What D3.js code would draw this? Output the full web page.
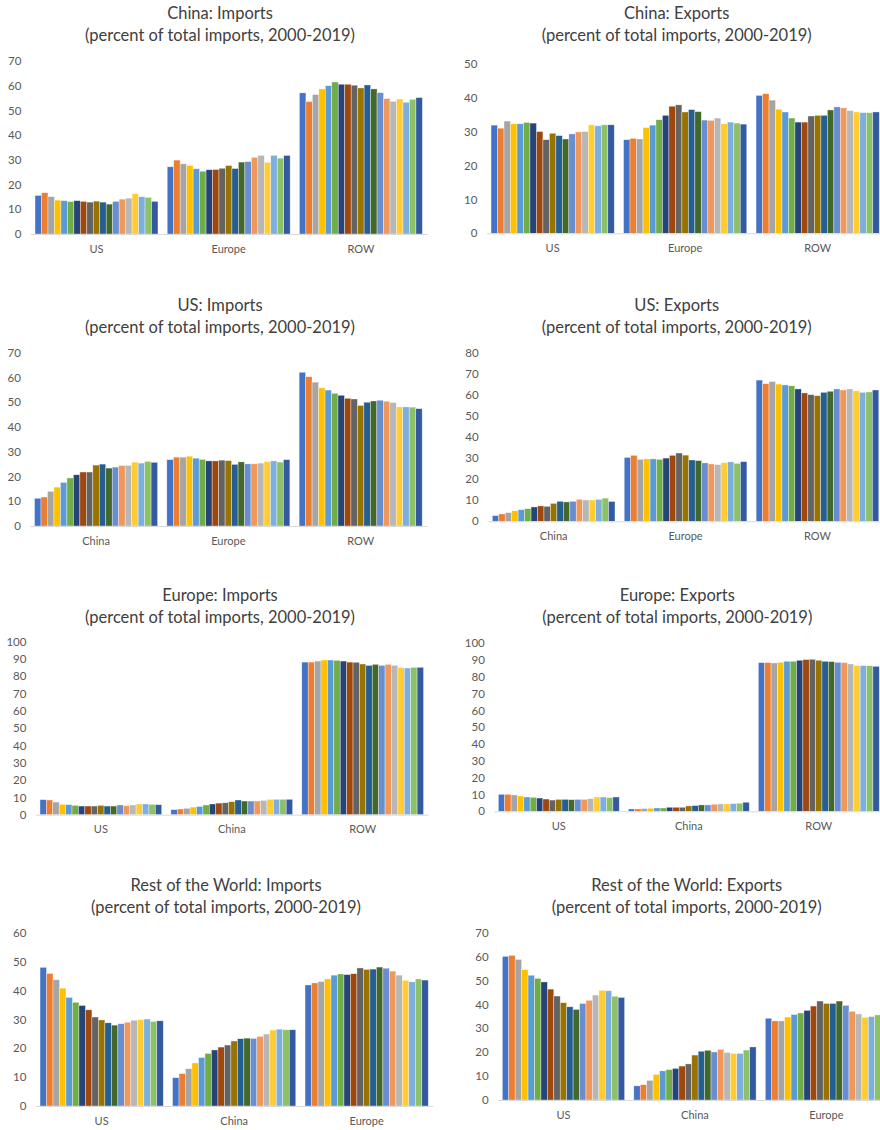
<!DOCTYPE html>
<html>
<head>
<meta charset="utf-8">
<script src="https://cdn.jsdelivr.net/npm/d3@7"></script>
<style>
  body { margin: 0; background: #fff; }
  svg { display: block; font-family: Lato, "Open Sans", sans-serif; }
</style>
</head>
<body>
<svg width="880" height="1130"></svg>
<script>
document.addEventListener('DOMContentLoaded', function() {

const years = ["2000","2001","2002","2003","2004","2005","2006","2007","2008","2009",
               "2010","2011","2012","2013","2014","2015","2016","2017","2018"];

// Excel default series palette
const colors = ["#4472C4","#ED7D31","#A5A5A5","#FFC000","#5B9BD5","#70AD47","#264478",
                "#9E480E","#636363","#997300","#255E91","#43682B","#698ED0","#F1975A",
                "#B7B7B7","#FFCD33","#7CAFDD","#8CC168","#335AA1"];

// China
const chinaImpUS     = [15.6,16.7,15.1,13.7,13.5,13.1,13.5,13.2,12.9,13.3,12.9,12.1,13.2,14.1,14.5,16.3,15.1,14.8,13.2];
const chinaImpEurope = [27.2,29.9,28.4,27.7,26.4,25.4,26.0,26.1,26.6,27.7,26.5,29.1,29.3,31.0,31.8,29.0,31.8,30.7,31.8];
const chinaImpROW    = [57.1,53.6,56.4,58.7,60.0,61.5,60.6,60.6,60.2,59.1,60.3,58.7,57.2,54.8,53.7,54.6,53.3,54.5,55.2];
const chinaExpUS     = [32.0,31.1,33.2,32.4,32.4,32.8,32.6,30.1,27.7,29.6,28.9,27.9,29.4,30.0,30.1,32.1,31.8,32.1,32.1];
const chinaExpEurope = [27.7,28.1,27.9,31.3,32.0,33.6,34.9,37.6,38.0,35.9,36.6,36.0,33.5,33.4,34.1,32.4,32.9,32.6,32.3];
const chinaExpROW    = [40.8,41.3,39.4,36.7,35.9,34.1,32.9,32.9,34.7,34.9,34.9,36.5,37.4,37.1,36.3,35.9,35.7,35.7,35.9];

// US
const usImpChina     = [11.2,11.7,14.0,15.7,17.6,19.4,20.7,21.8,21.8,24.6,25.0,23.4,23.8,24.4,24.5,25.8,25.4,26.1,25.7];
const usImpEurope    = [26.8,27.8,27.8,28.2,27.4,26.9,26.3,26.3,26.6,26.4,24.9,25.9,25.1,25.1,25.4,26.0,26.3,25.8,26.8];
const usImpROW       = [62.1,60.3,58.1,55.8,54.9,53.6,52.8,51.6,51.3,48.7,50.0,50.5,50.8,50.4,49.9,48.1,48.1,48.0,47.4];
const usExpChina     = [2.7,3.5,4.1,5.0,5.5,6.0,6.8,7.3,7.1,8.5,9.5,9.2,9.5,10.4,10.1,10.1,10.4,11.0,9.4];
const usExpEurope    = [30.3,31.3,29.4,29.6,29.6,29.4,30.0,31.3,32.4,31.4,29.1,28.8,27.7,27.2,26.9,27.8,28.2,27.5,28.3];
const usExpROW       = [67.0,65.3,66.3,65.1,64.7,64.3,62.8,60.9,60.1,59.6,61.2,61.7,62.8,62.3,62.8,61.9,61.2,61.4,62.3];

// Europe
const euImpUS        = [8.7,8.5,7.3,6.0,5.8,5.4,5.0,5.0,5.0,5.4,5.0,5.0,5.6,5.2,5.6,6.2,6.2,6.0,5.8];
const euImpChina     = [2.9,3.3,3.7,4.4,4.8,5.6,6.2,6.7,6.9,7.5,8.5,7.9,7.9,7.9,8.3,8.9,8.9,8.9,8.9];
const euImpROW       = [88.2,88.2,88.8,89.4,89.4,89.2,88.8,88.2,88.1,87.1,86.3,86.9,86.3,86.9,86.3,85.0,84.8,85.2,85.2];
const euExpUS        = [10.1,10.1,9.7,9.1,8.5,8.3,7.9,7.3,6.7,7.1,7.1,6.9,7.1,7.1,7.5,8.5,8.5,8.1,8.5];
const euExpChina     = [1.4,1.4,1.6,1.8,2.0,2.0,2.4,2.4,2.4,3.2,3.4,3.8,3.8,4.2,4.4,4.4,4.6,4.8,5.4];
const euExpROW       = [88.5,88.5,88.3,88.7,89.3,89.3,89.9,90.3,90.5,89.9,89.3,89.1,88.7,88.5,87.7,86.7,86.7,86.7,86.3];

// Rest of the World
const rowImpUS       = [48.0,45.9,43.7,40.8,37.6,35.9,34.8,33.3,30.8,29.8,28.8,28.0,28.5,29.0,29.7,29.9,30.1,29.3,29.5];
const rowImpChina    = [9.8,11.2,12.9,14.9,16.8,18.2,19.4,20.4,21.1,22.5,23.3,23.5,23.4,24.1,24.9,26.3,26.6,26.4,26.4];
const rowImpEurope   = [41.9,42.6,43.1,44.0,45.3,45.7,45.5,45.8,47.8,47.3,47.4,48.1,47.7,46.7,45.3,43.5,43.0,44.0,43.6];
const rowExpUS       = [60.1,60.5,58.8,54.5,52.2,50.9,49.4,46.4,43.5,40.7,39.0,37.9,40.4,41.7,43.9,45.9,45.7,43.4,42.9];
const rowExpChina    = [5.9,6.4,8.2,10.7,12.2,12.7,13.2,14.2,15.1,18.8,20.4,20.8,20.1,21.2,19.9,19.5,19.5,20.9,22.2];
const rowExpEurope   = [34.2,33.1,33.1,34.7,35.8,36.4,37.5,39.3,41.4,40.4,40.4,41.4,39.6,37.1,36.0,34.6,34.9,35.6,35.8];

const subtitle = "(percent of total imports, 2000-2019)";

const panels = [
    { title: "China: Imports", cats: ["US","Europe","ROW"], series: [chinaImpUS, chinaImpEurope, chinaImpROW], yMax: 70 },
    { title: "China: Exports", cats: ["US","Europe","ROW"], series: [chinaExpUS, chinaExpEurope, chinaExpROW], yMax: 50 },
    { title: "US: Imports", cats: ["China","Europe","ROW"], series: [usImpChina, usImpEurope, usImpROW], yMax: 70 },
    { title: "US: Exports", cats: ["China","Europe","ROW"], series: [usExpChina, usExpEurope, usExpROW], yMax: 80 },
    { title: "Europe: Imports", cats: ["US","China","ROW"], series: [euImpUS, euImpChina, euImpROW], yMax: 100 },
    { title: "Europe: Exports", cats: ["US","China","ROW"], series: [euExpUS, euExpChina, euExpROW], yMax: 100 },
    { title: "Rest of the World: Imports", cats: ["US","China","Europe"], series: [rowImpUS, rowImpChina, rowImpEurope], yMax: 60 },
    { title: "Rest of the World: Exports", cats: ["US","China","Europe"], series: [rowExpUS, rowExpChina, rowExpEurope], yMax: 70 }
];

// where each little Excel chart sits on the page
const layout = [
    { left: 30.4, step: 132.2, y0: 234.0, yTop: 61.0,  titleX: 220.0, titleY: 19 },
    { left: 486.4, step: 132.5, y0: 233.3, yTop: 64.3,  titleX: 676.7, titleY: 19 },
    { left: 29.9, step: 132.3, y0: 526.0, yTop: 352.7, titleX: 220.0, titleY: 311 },
    { left: 487.7, step: 131.9, y0: 521.3, yTop: 352.7, titleX: 676.7, titleY: 311 },
    { left: 35.4, step: 130.9, y0: 814.7, yTop: 641.7, titleX: 220.0, titleY: 601 },
    { left: 493.8, step: 130.0, y0: 811.3, yTop: 643.3, titleX: 677.3, titleY: 601 },
    { left: 35.4, step: 132.5, y0: 1106.0, yTop: 932.7, titleX: 226.0, titleY: 891 },
    { left: 497.7, step: 131.5, y0: 1100.0, yTop: 932.7, titleX: 686.7, titleY: 891 }
];

const svg = d3.select("svg");

panels.forEach((p, i) => {
    const L = layout[i];
    const g = svg.append("g").attr("class", "panel");

    const x0 = d3.scaleBand()
        .domain(p.cats)
        .range([L.left, L.left + 3 * L.step])
        .paddingInner(0.07)
        .paddingOuter(0.035);

    const x1 = d3.scaleBand()
        .domain(years)
        .range([0, x0.bandwidth()]);

    const y = d3.scaleLinear()
        .domain([0, p.yMax])
        .range([L.y0, L.yTop]);

    // title
    const t = g.append("text")
        .attr("x", L.titleX)
        .attr("y", L.titleY)
        .attr("text-anchor", "middle")
        .attr("font-size", "16.5px")
        .attr("font-weight", 400)
        .attr("fill", "#404040");
    t.append("tspan").attr("x", L.titleX).text(p.title);
    t.append("tspan").attr("x", L.titleX).attr("dy", 22).text(subtitle);

    // y axis (labels only)
    const yAxis = d3.axisLeft(y)
        .tickValues(d3.range(0, p.yMax + 1, 10))
        .tickSize(0)
        .tickPadding(9);
    g.append("g")
        .attr("transform", `translate(${L.left},0)`)
        .call(yAxis)
        .call(a => a.select(".domain").remove())
        .selectAll("text")
        .attr("font-family", "Lato, 'Open Sans', sans-serif")
        .attr("font-size", "11.5px")
        .attr("fill", "#595959");

    // bars
    const groups = g.append("g").selectAll("g")
        .data(p.cats.map((c, k) => ({ cat: c, vals: p.series[k] })))
        .enter()
        .append("g")
        .attr("transform", d => `translate(${x0(d.cat)},0)`);

    groups.selectAll("rect")
        .data(d => d.vals.map((v, j) => ({ year: years[j], v: v, color: colors[j] })))
        .enter()
        .append("rect")
        .attr("x", d => x1(d.year))
        .attr("width", x1.bandwidth())
        .attr("y", d => y(d.v))
        .attr("height", d => L.y0 - y(d.v))
        .attr("fill", d => d.color)
        .attr("stroke", "#fff")
        .attr("stroke-opacity", 0.6)
        .attr("stroke-width", 0.6);

    // x axis
    const xAxis = d3.axisBottom(x0).tickSize(0).tickPadding(11);
    g.append("g")
        .attr("transform", `translate(0,${L.y0})`)
        .call(xAxis)
        .call(a => a.select(".domain").attr("stroke", "#D9D9D9"))
        .selectAll("text")
        .attr("font-family", "Lato, 'Open Sans', sans-serif")
        .attr("font-size", "11px")
        .attr("fill", "#595959");
});

});
</script>
</body>
</html>
